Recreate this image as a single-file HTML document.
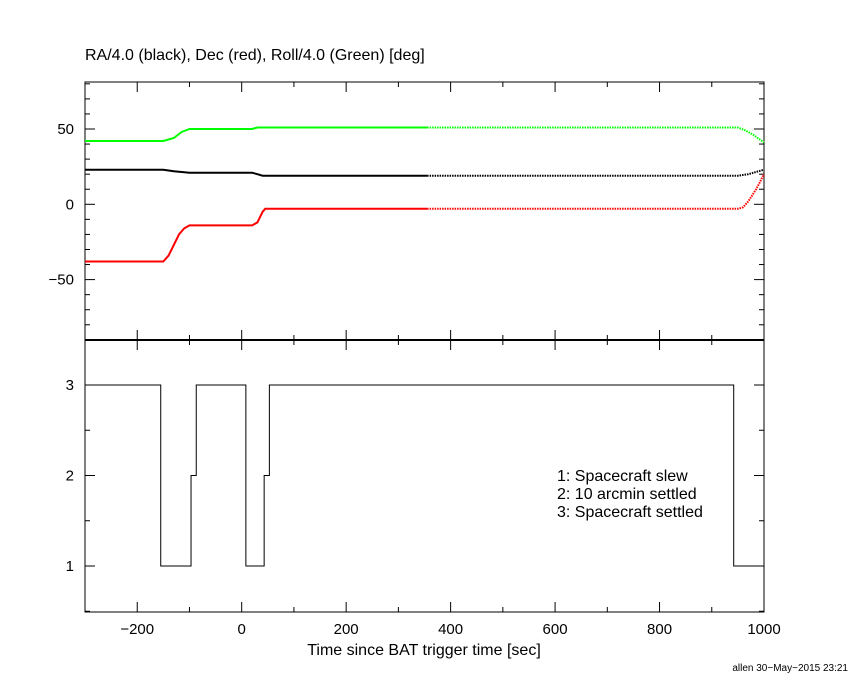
<!DOCTYPE html>
<html><head><meta charset="utf-8"><style>
body{margin:0;background:#fff;}
svg text{font-family:"Liberation Sans",sans-serif;font-size:15px;fill:#000;}
</style></head><body>
<svg id="c" width="850" height="680"></svg>
<script>
const xTicks=[-200,0,200,400,600,800,1000];
const topTicks=[-50,0,50];
const botTicks=[1,2,3];
// [time, value]
const raT=[-300,-150,-130,-100,20,30,40,950,970,1000];
const raV=[23,23,22,21,21,20,19,19,20,23];
const decT=[-300,-150,-140,-130,-120,-110,-100,20,30,40,45,950,960,970,985,1000];
const decV=[-38,-38,-34,-27,-20,-16,-14,-14,-12,-5,-3,-3,-2,2,10,20];
const rollT=[-300,-150,-130,-115,-100,20,30,40,950,965,980,1000];
const rollV=[42,42,44,48,50,50,51,51,51,49,46,41];
const modeT=[-300,-155,-97,-87,8,43,53,942,1000];
const modeV=[3,1,2,3,1,2,3,1,1];
const dotStart=355;
const X0=85,X1=764;
const sx=t=>X0+(t+300)/1300*(X1-X0);
const syT=v=>204.3-1.506*v;
const syB=v=>385-90.5*(v-3);
const svg=document.getElementById('c');
const NS='http://www.w3.org/2000/svg';
function mk(tag,a,parent){const e=document.createElementNS(NS,tag);for(const k in a)e.setAttribute(k,a[k]);(parent||svg).appendChild(e);return e;}
function ln(x1,y1,x2,y2,w){return mk('line',{x1,y1,x2,y2,stroke:'#000','stroke-width':w||1});}
let f=mk('rect',{x:X0,y:82,width:X1-X0,height:258,fill:'none',stroke:'#000'});

f=mk('rect',{x:X0,y:340,width:X1-X0,height:272,fill:'none',stroke:'#000'});

ln(X0,340,X1,340,2);
for(let t=-300;t<=1000;t+=100){const big=t%200===0;const L=big?10:5;const x=sx(t);
 ln(x,82,x,82+L);ln(x,340,x,340-L);ln(x,340,x,340+L);ln(x,612,x,612-L);}
xTicks.forEach(t=>{const e=mk('text',{x:sx(t),y:634,'text-anchor':'middle'});e.textContent=(t<0?'\u2212'+(-t):t);
 });
for(let v=-90;v<=80;v+=10){const big=v%50===0;const L=big?10:5;const y=syT(v);ln(X0,y,X0+L,y);ln(X1,y,X1-L,y);}
topTicks.forEach(v=>{const e=mk('text',{x:74,y:syT(v)+5,'text-anchor':'end'});e.textContent=(v<0?'\u2212'+(-v):v);
 });
for(let v=0.5;v<=3.5;v+=0.5){const big=Number.isInteger(v);const L=big?10:5;const y=syB(v);ln(X0,y,X0+L,y);ln(X1,y,X1-L,y);}
botTicks.forEach(v=>{const e=mk('text',{x:74,y:syB(v)+5,'text-anchor':'end'});e.textContent=v;
 });
function series(T,V,col,name){
 let solid=[],dot=[];
 for(let i=0;i<T.length;i++){const p=sx(T[i]).toFixed(1)+','+syT(V[i]).toFixed(1);
  if(T[i]<=dotStart)solid.push(p);else{ if(!dot.length&&i>0){
   const k=(dotStart-T[i-1])/(T[i]-T[i-1]);const v=V[i-1]+k*(V[i]-V[i-1]);
   const q=sx(dotStart).toFixed(1)+','+syT(v).toFixed(1);solid.push(q);dot.push(q);} dot.push(p);}}
 let e=mk('polyline',{points:solid.join(' '),fill:'none',stroke:col,'stroke-width':2});
 
 e=mk('polyline',{points:dot.join(' '),fill:'none',stroke:col,'stroke-width':2,'stroke-dasharray':'1.5,1'});
 
}
series(rollT,rollV,'#00ff00','roll-line');
series(raT,raV,'#000','ra-line');
series(decT,decV,'#ff0000','dec-line');
let pts=[];
for(let i=0;i<modeT.length;i++){if(i>0)pts.push(sx(modeT[i])+','+syB(modeV[i-1]));pts.push(sx(modeT[i])+','+syB(modeV[i]));}
let m=mk('polyline',{points:pts.join(' '),fill:'none',stroke:'#000','stroke-width':1});

function txt(x,y,s,name,size,anchor){const e=mk('text',{x,y});e.textContent=s;if(size)e.style.fontSize=size+'px';if(anchor)e.setAttribute('text-anchor',anchor);
 }
txt(85,60,'RA/4.0 (black), Dec (red), Roll/4.0 (Green) [deg]','top-title',16);
txt(557,481,'1: Spacecraft slew','legend-1',16);
txt(557,499,'2: 10 arcmin settled','legend-2',16);
txt(557,517,'3: Spacecraft settled','legend-3',16);
txt(424,655,'Time since BAT trigger time [sec]','x-axis-title',16,'middle');
txt(848,671,'allen 30\u2212May\u22122015 23:21','footer-stamp',10,'end');
</script>
</body></html>
